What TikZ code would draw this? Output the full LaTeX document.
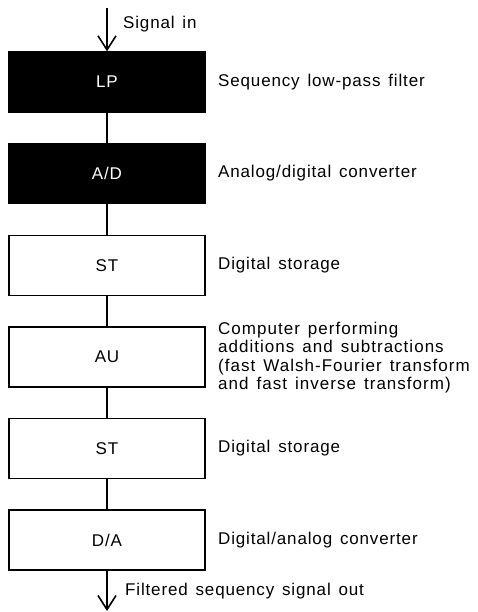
\documentclass[tikz,border=0pt]{standalone}
\usepackage{fontspec}
\setmainfont{Liberation Sans}[LetterSpace=5, WordSpace=1.4]
\usetikzlibrary{arrows.meta}
\begin{document}
\begin{tikzpicture}[x=1pt, y=-1pt,
  txt/.style={font=\fontsize{17}{18.6}\selectfont},
  blk/.style={txt, draw=black, line width=1.4pt, minimum width=196pt,
    minimum height=60pt, inner sep=0pt},
  dark/.style={blk, fill=black, text=white},
  lite/.style={blk, fill=white},
  lbl/.style={txt, anchor=west, inner sep=0pt, align=left},
  wide/.style={lbl, font=\fontsize{17}{18.6}\selectfont\addfontfeature{LetterSpace=6}},
  link/.style={line width=2pt},
  flow/.style={line width=1.6pt,
    -{Straight Barb[length=14pt, width=18pt, line width=1.6pt]}}]
\useasboundingbox (0,0) rectangle (477,612);

% processing chain
\node[dark] (lp)  at (107, 82.0)  {LP};
\node[dark] (ad)  at (107, 173.6) {A/D};
\node[lite] (st1) at (107, 265.2) {ST};
\node[lite] (au)  at (107, 356.8) {AU};
\node[lite] (st2) at (107, 448.4) {ST};
\node[lite] (da)  at (107, 540.0) {D/A};

% input and output ends
\coordinate (in)  at (107, 8);
\coordinate (out) at (107, 611);

\draw[flow] (in) -- (lp.north);
\draw[link] (lp.south)  -- (ad.north);
\draw[link] (ad.south)  -- (st1.north);
\draw[link] (st1.south) -- (au.north);
\draw[link] (au.south)  -- (st2.north);
\draw[link] (st2.south) -- (da.north);
\draw[flow] (da.south) -- (out);

% descriptions
\node[lbl]  (sin)  at (123, 24)  {Signal in};
\node[lbl]  (dlp)  at (218, 82.0)  {Sequency low-pass filter};
\node[lbl]  (dad)  at (218, 173.6) {Analog/digital converter};
\node[lbl]  (dst1) at (218, 265.2) {Digital storage};
\node[wide] (dau)  at (218, 357.5) {Computer performing\\additions and subtractions\\(fast Walsh-Fourier transform\\and fast inverse transform)};
\node[lbl]  (dst2) at (218, 448.4) {Digital storage};
\node[lbl]  (dda)  at (218, 540.0) {Digital/analog converter};
\node[lbl]  (sout) at (125, 591)   {Filtered sequency signal out};
\end{tikzpicture}
\end{document}
